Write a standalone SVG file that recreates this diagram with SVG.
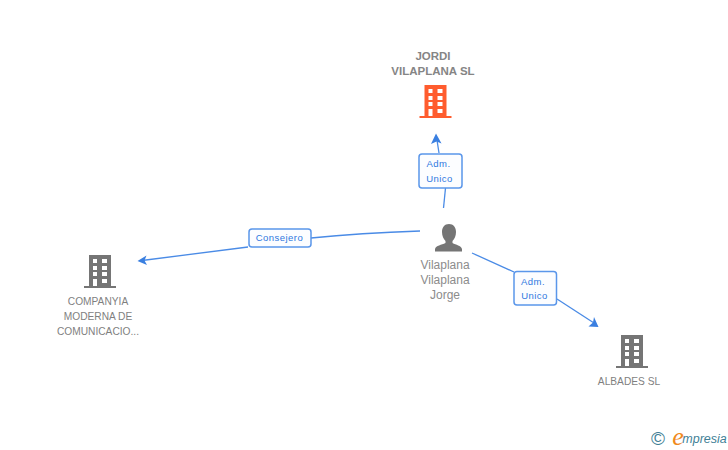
<svg xmlns="http://www.w3.org/2000/svg" width="728" height="450" viewBox="0 0 728 450">
<style>
text{font-family:"Liberation Sans",Arial,sans-serif;text-anchor:middle}
.name{font-size:12px;fill:#8c8c8c}
.small{font-size:10.2px;fill:#7f7f7f}
.bold{font-size:11.500px;font-weight:bold;fill:#858585}
.lab{font-size:9.500px;fill:#2f78e0;letter-spacing:.45px}
.box{fill:#fcfdff;stroke:#5a96ea;stroke-width:1.5}
.line{fill:none;stroke:#4a8be6;stroke-width:1.3}
.head{fill:#3a7fe0}
.grey{fill:#757575}
.orange{fill:#ff5c2e}
</style>
<defs>
<symbol id="bld" viewBox="0 0 32 33" width="32" height="33" overflow="visible">
<path fill-rule="evenodd" d="M5 0H27V31H32V33H0V31H5ZM9 4V8H13V4ZM18 4V8H23V4ZM9 11V15H13V11ZM18 11V15H23V11ZM9 17V21H13V17ZM18 17V21H23V17ZM9 24V31H13V24ZM18 24V28H23V24Z"/>
</symbol>
</defs>
<g id="connectors">
<path class="line" d="M443.500 208L445.500 188"/>
<path class="line" d="M439 153L436.500 137"/>
<path class="head" d="M436 133.500L441.500 143.500L436.500 141.500L431 144Z"/>
<path class="line" d="M420 231Q360 233 311 238"/>
<path class="line" d="M248 247L142 260.500"/>
<path class="head" d="M137.500 261L146.500 255.500L144.500 260.500L147 265Z"/>
<path class="line" d="M472 253L514 272"/>
<path class="line" d="M557 299L594 323"/>
<path class="head" d="M598.500 327L588.500 326.500L593 322.500L594 317Z"/>
</g>
<g id="node-jordi">
<text class="bold" x="433" y="60">JORDI</text>
<text class="bold" x="433" y="75">VILAPLANA SL</text>
<use href="#bld" x="419.500" y="85" class="orange"/>
</g>
<g id="node-person">
<path class="grey" d="M449 224C453.500 224 456 227.500 456 232C456 236 454.500 239 452.500 241V243C456 245 461 245.500 462 249V251.500H435V249C436 245.500 441.500 245 445.500 243V241C443.500 239 442 236 442 232C442 227.500 444.500 224 449 224Z"/>
<text class="name" x="445" y="269">Vilaplana</text>
<text class="name" x="445" y="284">Vilaplana</text>
<text class="name" x="445" y="299">Jorge</text>
</g>
<g id="node-companyia">
<use href="#bld" x="84" y="255" class="grey"/>
<text class="small" x="98" y="305">COMPANYIA</text>
<text class="small" x="98" y="320">MODERNA DE</text>
<text class="small" x="98" y="335">COMUNICACIO...</text>
</g>
<g id="node-albades">
<use href="#bld" x="616" y="335" class="grey"/>
<text class="small" x="629" y="385">ALBADES SL</text>
</g>
<g id="label-adm-top">
<rect class="box" x="419" y="154" width="43" height="34" rx="3"/>
<text class="lab" x="438.500" y="167">Adm.</text>
<text class="lab" x="439.500" y="182">Unico</text>
</g>
<g id="label-consejero">
<rect class="box" x="249" y="229" width="62" height="18" rx="3"/>
<text class="lab" x="279.500" y="241">Consejero</text>
</g>
<g id="label-adm-right">
<rect class="box" x="514" y="271.500" width="42.500" height="33.500" rx="3"/>
<text class="lab" x="533" y="285">Adm.</text>
<text class="lab" x="534.500" y="299">Unico</text>
</g>
<g id="logo">
<text x="658" y="445" style="font-size:19px;fill:#3f7f96">©</text>
<text x="678" y="445" style="font-family:'Liberation Serif',serif;font-size:26px;font-style:italic;fill:#f08a1d">e</text>
<text x="704.500" y="443" style="font-size:12.500px;font-style:italic;fill:#3f7f96">mpresia</text>
</g>
</svg>
